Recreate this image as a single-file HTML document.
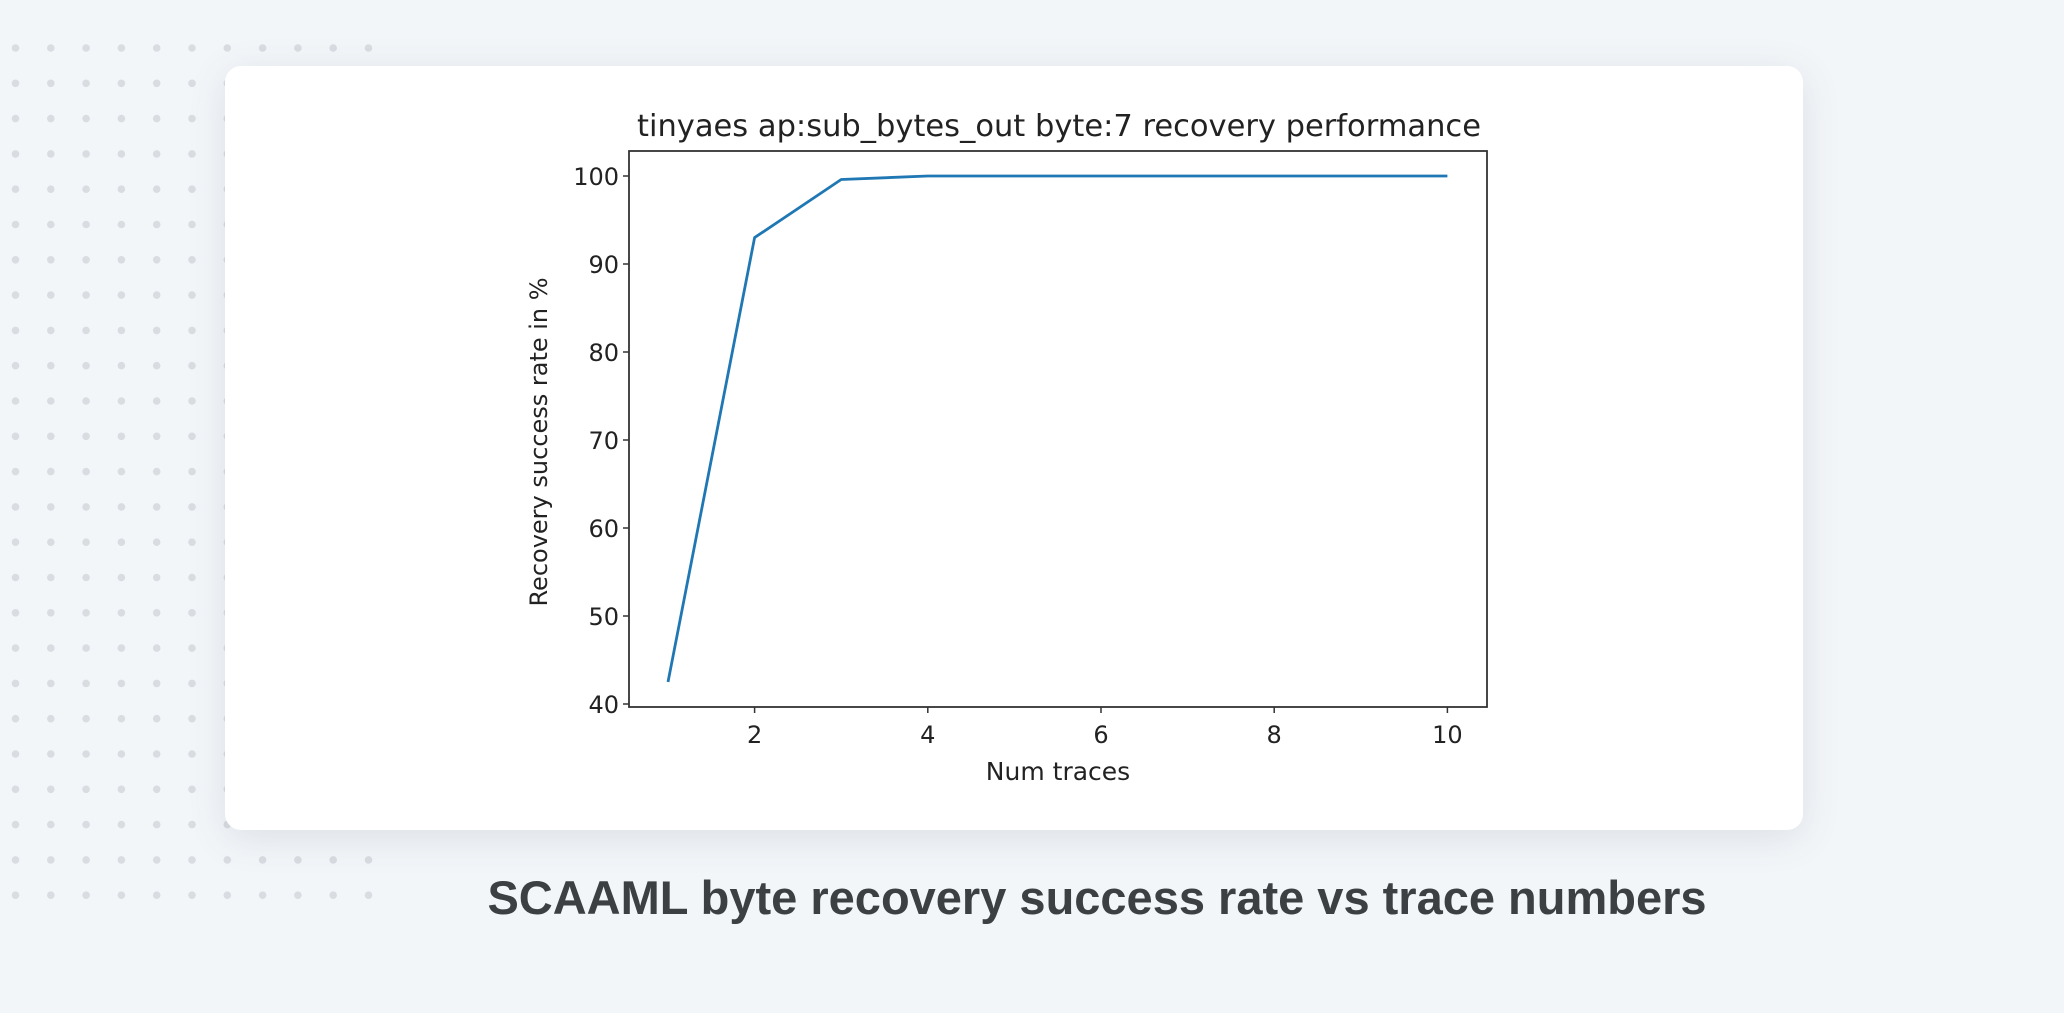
<!DOCTYPE html>
<html><head><meta charset="utf-8"><style>
html,body{margin:0;padding:0;width:2064px;height:1013px;overflow:hidden;background:#f3f6f9;font-family:"DejaVu Sans","Liberation Sans",sans-serif}
#card{position:absolute;left:225px;top:66px;width:1578px;height:764px;background:#fff;border-radius:16px;box-shadow:0 8px 40px rgba(60,70,90,0.12)}
#caption{position:absolute;left:0;width:2064px;top:870px;text-align:center;font-family:"Liberation Sans",sans-serif;font-weight:bold;font-size:47px;color:#3c4043;padding-left:130px;box-sizing:border-box}
svg{position:absolute;left:0;top:0}
</style></head><body>
<svg id="dots" width="400" height="1013"></svg>
<div id="card"></div>
<svg id="chart" width="2064" height="1013"></svg>
<div id="caption">SCAAML byte recovery success rate vs trace numbers</div>
<script>
const xValues=[1,2,3,4,5,6,7,8,9,10];
const yValues=[42.5,93,99.6,100,100,100,100,100,100,100];
const xTicks=[2,4,6,8,10];
const yTicks=[40,50,60,70,80,90,100];
const NS="http://www.w3.org/2000/svg";
function mk(p,t,a){const e=document.createElementNS(NS,t);for(const k in a)e.setAttribute(k,a[k]);p.appendChild(e);return e;}
const d=document.getElementById('dots');
for(let r=0;r<25;r++)for(let c=0;c<11;c++){const e=mk(d,'circle',{cx:15.5+c*35.3,cy:48+r*35.3,r:3.8,fill:'#d9dce1'});

}
const s=document.getElementById('chart');
const L=629,R=1487,T=151,B=707;
const X=v=>668+(v-1)*86.6;
const Y=v=>704-(v-40)*8.8;
const f={'font-family':'DejaVu Sans, Liberation Sans, sans-serif',fill:'#222'};
const title=mk(s,'text',Object.assign({x:(L+R)/2+1,y:136,'text-anchor':'middle','font-size':30.5},f));title.textContent='tinyaes ap:sub_bytes_out byte:7 recovery performance';


yTicks.forEach(v=>{const y=Y(v);mk(s,'line',{x1:L-6,x2:L,y1:y,y2:y,stroke:'#333','stroke-width':1.5});
const t=mk(s,'text',Object.assign({x:L-10,y:y+9,'text-anchor':'end','font-size':24},f));t.textContent=v;

});
xTicks.forEach(v=>{const x=X(v);mk(s,'line',{x1:x,x2:x,y1:B,y2:B+6,stroke:'#333','stroke-width':1.5});
const t=mk(s,'text',Object.assign({x:x,y:B+36,'text-anchor':'middle','font-size':24},f));t.textContent=v;

});
const xl=mk(s,'text',Object.assign({x:(L+R)/2,y:780,'text-anchor':'middle','font-size':25},f));xl.textContent='Num traces';


const yl=mk(s,'text',Object.assign({x:0,y:0,'text-anchor':'middle','font-size':24,transform:'translate(547,442) rotate(-90)'},f));yl.textContent='Recovery success rate in %';


const line=mk(s,'polyline',{points:xValues.map((v,i)=>X(v)+','+Y(yValues[i])).join(' '),fill:'none',stroke:'#1f77b4','stroke-width':2.8,'stroke-linejoin':'round'});


const fr=mk(s,'rect',{x:L,y:T,width:R-L,height:B-T,fill:'none',stroke:'#333','stroke-width':1.8});


</script>
</body></html>
